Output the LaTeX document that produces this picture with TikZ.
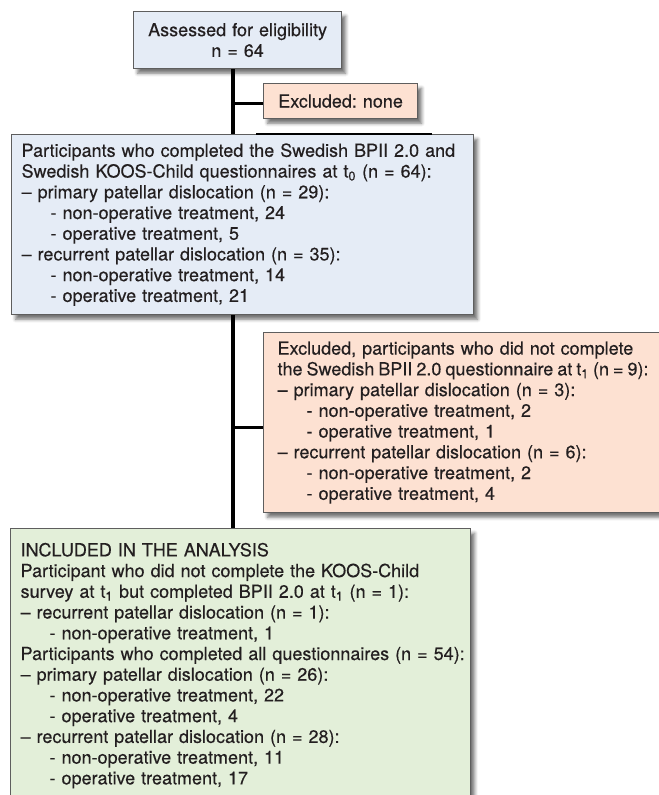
\documentclass[tikz,border=0pt]{standalone}
\usepackage{fontspec}
\setmainfont{TeX Gyre Heros}[FakeBold=0.35]
\usetikzlibrary{shadows.blur,calc}
\definecolor{bluefill}{HTML}{E5ECF6}
\definecolor{orangefill}{HTML}{FDE1D2}
\definecolor{greenfill}{HTML}{E3EFD9}
\definecolor{boxline}{HTML}{5E5E5E}
\definecolor{txt}{HTML}{231F20}
\newcommand\subit{\hspace*{21.75pt}}
\frenchspacing
\begin{document}
\begin{tikzpicture}[x=0.75pt,y=-0.75pt,
  box/.style={draw=boxline, line width=0.9pt, anchor=north west, inner sep=0pt,
    text=txt, font=\fontsize{13.5}{15.55}\selectfont\frenchspacing,
    blur shadow={shadow xshift=3pt, shadow yshift=-3.5pt, shadow opacity=55, shadow blur radius=2.5pt}},
  conn/.style={line width=2.6pt, draw=black}]
\useasboundingbox (0,0) rectangle (659,795);
\clip (0,0) rectangle (659,795);
\coordinate (sp) at (233,0);
\node[box, fill=bluefill, align=center, text width=156pt, minimum height=42.75pt] (b1) at (133,11)
  {Assessed for eligibility\\n = 64};
\node[box, fill=orangefill, align=center, text width=115.5pt, minimum height=26.25pt] (ex1) at (263,83)
  {Excluded: none};
\node[box, fill=bluefill, align=left, inner xsep=7.5pt, text width=331.5pt, minimum height=135pt] (b2) at (11,134)
  {\mbox{Participants who completed the Swedish BPII 2.0 and}\\
   \mbox{Swedish KOOS-Child questionnaires at t\textsubscript{0} (n = 64):}\\
   – primary patellar dislocation (n = 29):\\
   \subit- non-operative treatment, 24\\
   \subit- operative treatment, 5\\
   – recurrent patellar dislocation (n = 35):\\
   \subit- non-operative treatment, 14\\
   \subit- operative treatment, 21};
\node[box, fill=orangefill, align=left, inner xsep=10.5pt, text width=300pt, minimum height=135pt] (ex2) at (263,332)
  {\mbox{Excluded, participants who did not complete}\\
   \mbox{\spaceskip=0.8\fontdimen2\font plus 0.1\fontdimen2\font the Swedish BPII 2.0 questionnaire at t\textsubscript{1} (n = 9):}\\
   – primary patellar dislocation (n = 3):\\
   \subit- non-operative treatment, 2\\
   \subit- operative treatment, 1\\
   – recurrent patellar dislocation (n = 6):\\
   \subit- non-operative treatment, 2\\
   \subit- operative treatment, 4};
\node[box, fill=greenfill, align=left, inner xsep=7.5pt, text width=330pt, minimum height=205.5pt] (b3) at (10,528)
  {INCLUDED IN THE ANALYSIS\\
   \mbox{Participant who did not complete the KOOS-Child}\\
   \mbox{survey at t\textsubscript{1} but completed BPII 2.0 at t\textsubscript{1} (n = 1):}\\
   – recurrent patellar dislocation (n = 1):\\
   \subit- non-operative treatment, 1\\
   \mbox{Participants who completed all questionnaires (n = 54):}\\
   – primary patellar dislocation (n = 26):\\
   \subit- non-operative treatment, 22\\
   \subit- operative treatment, 4\\
   – recurrent patellar dislocation (n = 28):\\
   \subit- non-operative treatment, 11\\
   \subit- operative treatment, 17};
\draw[conn] (b1.south -| sp) -- (b2.north -| sp);
\draw[conn] ([yshift=-1.9pt]ex1.west -| sp) -- ([yshift=-1.9pt]ex1.west);
\draw[conn] (b2.south -| sp) -- (b3.north -| sp);
\draw[conn] ([yshift=-3.75pt]ex2.west -| sp) -- ([yshift=-3.75pt]ex2.west);
\draw[line width=1.6pt, black] ($(b2.north west)+(245,0)$) -- ($(b2.north west)+(421,0)$);
\end{tikzpicture}
\end{document}
